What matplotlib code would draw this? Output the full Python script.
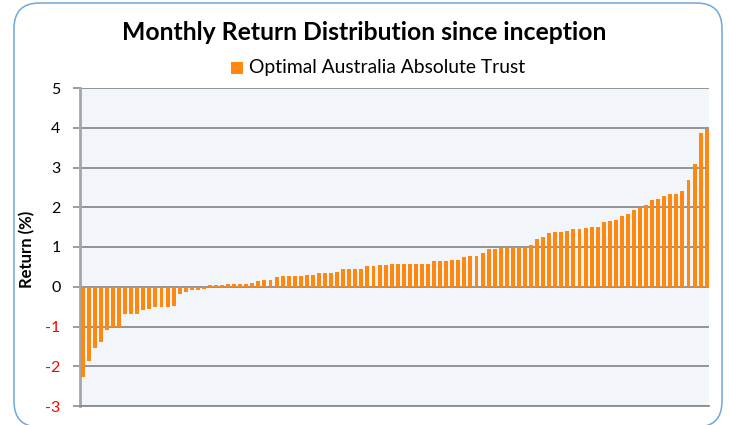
import numpy as np
import matplotlib
matplotlib.use('Agg')
import matplotlib.pyplot as plt
from matplotlib.patches import FancyBboxPatch, Rectangle

title = "Monthly Return Distribution since inception"
series_name = "Optimal Australia Absolute Trust"
y_label = "Return (%)"

# sorted monthly returns (%)
returns_neg = [-2.27, -1.86, -1.54, -1.38, -1.10, -1.00, -1.00, -0.69, -0.69, -0.69,
               -0.59, -0.56, -0.52, -0.52, -0.52, -0.49, -0.19, -0.12, -0.08, -0.08, -0.05]
returns_low = [0.04, 0.04, 0.04, 0.07, 0.07, 0.07, 0.07, 0.10, 0.14, 0.17,
               0.17, 0.24, 0.27, 0.27, 0.27, 0.27, 0.30, 0.30, 0.34, 0.34]
returns_mid = [0.34, 0.38, 0.45, 0.45, 0.45, 0.45, 0.51, 0.51, 0.55, 0.55,
               0.58, 0.58, 0.58, 0.58, 0.58, 0.58, 0.58, 0.65, 0.65, 0.65, 0.68]
returns_upper = [0.67, 0.74, 0.77, 0.77, 0.84, 0.94, 0.94, 0.97, 0.97, 1.00,
                 1.00, 1.00, 1.04, 1.20, 1.24, 1.34, 1.38, 1.38, 1.41, 1.45]
returns_top = [1.45, 1.48, 1.51, 1.51, 1.62, 1.65, 1.68, 1.78, 1.82, 1.94, 1.97,
               2.06, 2.18, 2.21, 2.28, 2.34, 2.34, 2.41, 2.68, 3.08, 3.88, 3.97]
y_ticks = [-3, -2, -1, 0, 1, 2, 3, 4, 5]

returns = returns_neg + returns_low + returns_mid + returns_upper + returns_top
x = np.arange(1, len(returns) + 1)

font = ['Lato', 'DejaVu Sans']
bar_color = '#FF8811'
grid_color = '#8C8C8C'

fig = plt.figure(figsize=(7.29, 4.25), dpi=100)
fig.patch.set_facecolor('white')

# rounded chart border (bottom edge runs just off the image)
border = FancyBboxPatch((14 / 729, -2 / 425), 708 / 729, 424 / 425,
                        boxstyle="round,pad=0,rounding_size=0.035",
                        transform=fig.transFigure, facecolor='none',
                        edgecolor='#6FA8DC', linewidth=1.1, mutation_aspect=729 / 425)
fig.patches.append(border)

ax = fig.add_axes([80 / 729, 19 / 425, 629 / 729, 318 / 425])
ax.set_facecolor('#F2F6FB')
ax.bar(x, returns, width=0.65, color=bar_color, zorder=3)

ax.set_xlim(0.55, len(returns) + 0.38)
ax.set_ylim(-3, 5)
ax.set_yticks(y_ticks)
ax.set_yticklabels([str(t) for t in y_ticks], family=font, fontsize=11.5)
for lab, t in zip(ax.get_yticklabels(), y_ticks):
    lab.set_color('red' if t < 0 else 'black')
ax.set_xticks([])
ax.yaxis.grid(True, color=grid_color, linewidth=1.3, zorder=1)
ax.tick_params(axis='y', length=5, width=1.2, color=grid_color, pad=9)

for side in ['top', 'right']:
    ax.spines[side].set_visible(False)
ax.spines['left'].set_color('#A6A6A6')
ax.spines['left'].set_linewidth(2)
ax.spines['bottom'].set_color(grid_color)
ax.spines['bottom'].set_linewidth(1.3)

ax.set_ylabel(y_label, family=font, fontsize=12, fontweight='bold')
ax.yaxis.set_label_coords(-45 / 629, 0.494)

fig.text(364 / 729, 1 - 32 / 425, title, family=font, fontsize=17.8,
         fontweight='bold', ha='center', va='center')
fig.patches.append(Rectangle((231 / 729, 1 - 74 / 425), 12 / 729, 12 / 425,
                             transform=fig.transFigure, facecolor=bar_color,
                             edgecolor='none'))
fig.text(249 / 729, 1 - 67 / 425, series_name, family=font, fontsize=13.9,
         ha='left', va='center')

fig.savefig('out.png', dpi=100)
